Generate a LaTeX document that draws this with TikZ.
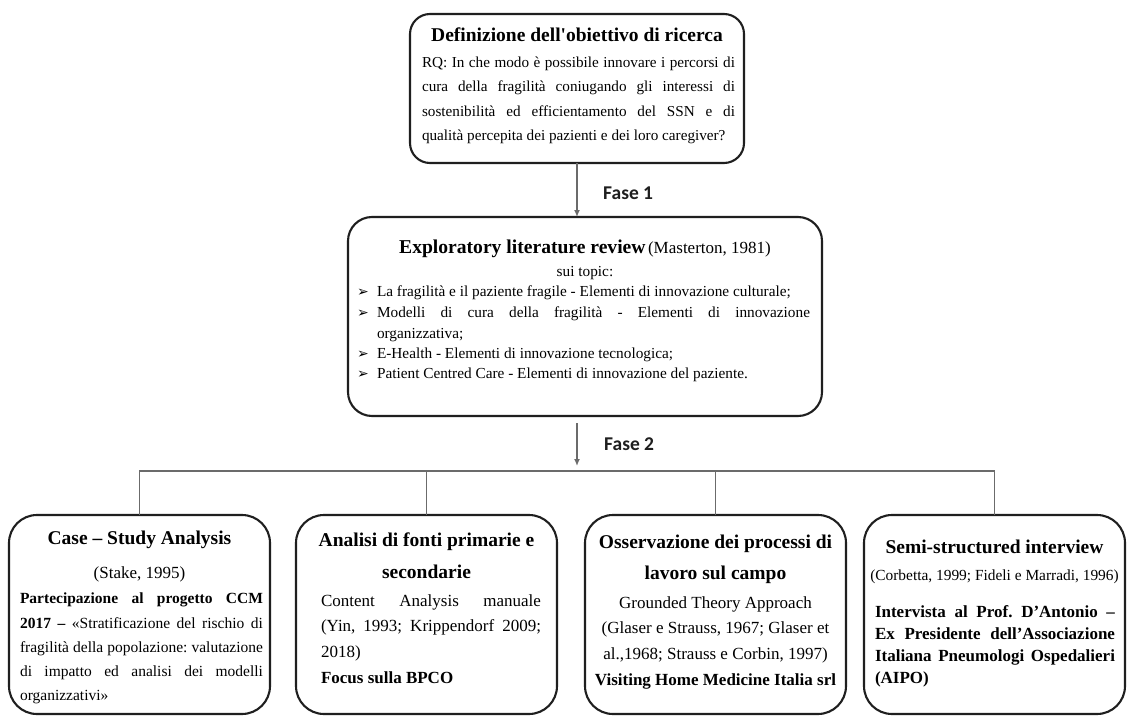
\documentclass[tikz,border=0pt]{standalone}
\usepackage{fontspec}
\setmainfont{Liberation Serif}
\newfontfamily\fasefont{Carlito}
\newfontfamily\dingfont{DejaVu Sans}
\usetikzlibrary{arrows.meta}
\newcommand{\fsz}[1]{\fontsize{#1}{#1}\selectfont}
\newcommand{\jline}[2]{\makebox[#1pt][s]{#2}}
\frenchspacing

\begin{document}
\begin{tikzpicture}[x=1pt,y=-1pt,
  rbox/.style={draw=black!88, line width=2.1pt, rounded corners=#1,
    inner sep=0pt, outer sep=0pt},
  conn/.style={draw=black!58, line width=1.4pt},
  arr/.style={conn, -{Latex[length=7pt,width=6pt]}},
  ln/.style={anchor=base, inner sep=0pt, outer sep=0pt},
  lnl/.style={anchor=base west, inner sep=0pt, outer sep=0pt},
  fase/.style={anchor=base west, inner sep=0pt, font=\fasefont\bfseries\fsz{19.5}, text=black!88},
  bul/.style={anchor=base west, inner sep=0pt, font=\dingfont\fsz{14}}]

\useasboundingbox[fill=white] (0,0) rectangle (1130,717);

% ---- boxes ----
\node[rbox=20pt, minimum width=334pt, minimum height=149pt] (top) at (577,88.5) {};
\node[rbox=24pt, minimum width=474pt, minimum height=199pt] (mid) at (585,316.5) {};
\node[rbox=28pt, minimum width=261pt, minimum height=199pt] (b1) at (139.5,614.5) {};
\node[rbox=28pt, minimum width=261pt, minimum height=199pt] (b2) at (426.5,614.5) {};
\node[rbox=28pt, minimum width=261pt, minimum height=199pt] (b3) at (715.5,614.5) {};
\node[rbox=28pt, minimum width=261pt, minimum height=199pt] (b4) at (994.5,614.5) {};

% ---- connectors ----
\coordinate (busy) at (0,471);
\draw[arr] (top.south) -- (top.south |- mid.north);
\draw[arr] ([yshift=-7pt]mid.south -| top.south) -- ([yshift=5pt]top.south |- busy);
\draw[conn] (b1.north) -- (b1.north |- busy) -- (b4.north |- busy) -- (b4.north);
\draw[conn] (b2.north) -- (b2.north |- busy);
\draw[conn] (b3.north) -- (b3.north |- busy);

\node[fase] (f1) at (603,199.5) {Fase 1};
\node[fase] (f2) at (604,450) {Fase 2};

% ---- research objective ----
\node[ln, font=\bfseries\fsz{19.5}] (t0) at (577,42) {Definizione dell\textquotesingle obiettivo di ricerca};
\begin{scope}[every node/.append style={font=\fsz{15.2}}]
\node[lnl] (t1) at (422,68) {\jline{313}{RQ: In che modo è possibile innovare i percorsi di}};
\node[lnl] (t2) at (422,92) {\jline{313}{cura della fragilità coniugando gli interessi di}};
\node[lnl] (t3) at (422,116) {\jline{313}{sostenibilità ed efficientamento del SSN e di}};
\node[lnl] (t4) at (422,140) {qualità percepita dei pazienti e dei loro caregiver?};
\end{scope}

% ---- literature review ----
\node[ln] (m0) at (585,253) {{\bfseries\fsz{19.6}Exploratory literature review} {\fsz{17}(Masterton, 1981)}};
\begin{scope}[every node/.append style={font=\fsz{15.3}}]
\node[ln] (m1) at (585,276) {sui topic:};
\node[lnl] (m2) at (377,296) {La fragilità e il paziente fragile - Elementi di innovazione culturale;};
\node[lnl] (m3) at (377,317) {\jline{433}{Modelli di cura della fragilità - Elementi di innovazione}};
\node[lnl] (m4) at (377,338) {organizzativa;};
\node[lnl] (m5) at (377,358) {E-Health - Elementi di innovazione tecnologica;};
\node[lnl] (m6) at (377,378) {Patient Centred Care - Elementi di innovazione del paziente.};
\end{scope}
\node[bul] (p2) at (357,296) {➢};
\node[bul] (p3) at (357,317) {➢};
\node[bul] (p5) at (357,358) {➢};
\node[bul] (p6) at (357,378) {➢};

% ---- case study ----
\node[ln, font=\bfseries\fsz{19.5}] (c0) at (139.5,544) {Case – Study Analysis};
\node[ln, font=\fsz{17}] (c1) at (139.5,578) {(Stake, 1995)};
\begin{scope}[every node/.append style={font=\fsz{15.5}}]
\node[lnl] (c2) at (20,603) {\jline{243}{\bfseries Partecipazione al progetto CCM}};
\node[lnl] (c3) at (20,628) {\jline{243}{\textbf{2017 –} «Stratificazione del rischio di}};
\node[lnl] (c4) at (20,652) {\jline{243}{fragilità della popolazione: valutazione}};
\node[lnl] (c5) at (20,676) {\jline{243}{di impatto ed analisi dei modelli}};
\node[lnl] (c6) at (20,700) {organizzativi»};
\end{scope}

% ---- primary and secondary sources ----
\node[ln, font=\bfseries\fsz{19.5}] (s0) at (426.5,546) {Analisi di fonti primarie e};
\node[ln, font=\bfseries\fsz{19.5}] (s1) at (426.5,578) {secondarie};
\begin{scope}[every node/.append style={font=\fsz{17}}]
\node[lnl] (s2) at (321,606) {\jline{220}{Content Analysis manuale}};
\node[lnl] (s3) at (321,631) {\jline{220}{(Yin, 1993; Krippendorf 2009;}};
\node[lnl] (s4) at (321,657) {2018)};
\node[lnl] (s5) at (321,683) {\bfseries Focus sulla BPCO};
\end{scope}

% ---- field observation ----
\node[ln, font=\bfseries\fsz{19.5}] (o0) at (715.5,548) {Osservazione dei processi di};
\node[ln, font=\bfseries\fsz{19.5}] (o1) at (715.5,579) {lavoro sul campo};
\begin{scope}[every node/.append style={font=\fsz{17}}]
\node[ln] (o2) at (715.5,608) {Grounded Theory Approach};
\node[ln] (o3) at (715.5,633) {(Glaser e Strauss, 1967; Glaser et};
\node[ln] (o4) at (715.5,659) {al.,1968; Strauss e Corbin, 1997)};
\node[ln] (o5) at (715.5,685) {\bfseries Visiting Home Medicine Italia srl};
\end{scope}

% ---- interview ----
\node[ln, font=\bfseries\fsz{19.5}] (i0) at (994.5,553) {Semi-structured interview};
\node[ln, font=\fsz{15.4}] (i1) at (994.5,580) {(Corbetta, 1999; Fideli e Marradi, 1996)};
\begin{scope}[every node/.append style={font=\bfseries\fsz{17}}]
\node[lnl] (i2) at (875,617) {\jline{240}{Intervista al Prof. D’Antonio –}};
\node[lnl] (i3) at (875,639) {\jline{240}{Ex Presidente dell’Associazione}};
\node[lnl] (i4) at (875,661) {\jline{240}{Italiana Pneumologi Ospedalieri}};
\node[lnl] (i5) at (875,683) {(AIPO)};
\end{scope}
\end{tikzpicture}
\end{document}
